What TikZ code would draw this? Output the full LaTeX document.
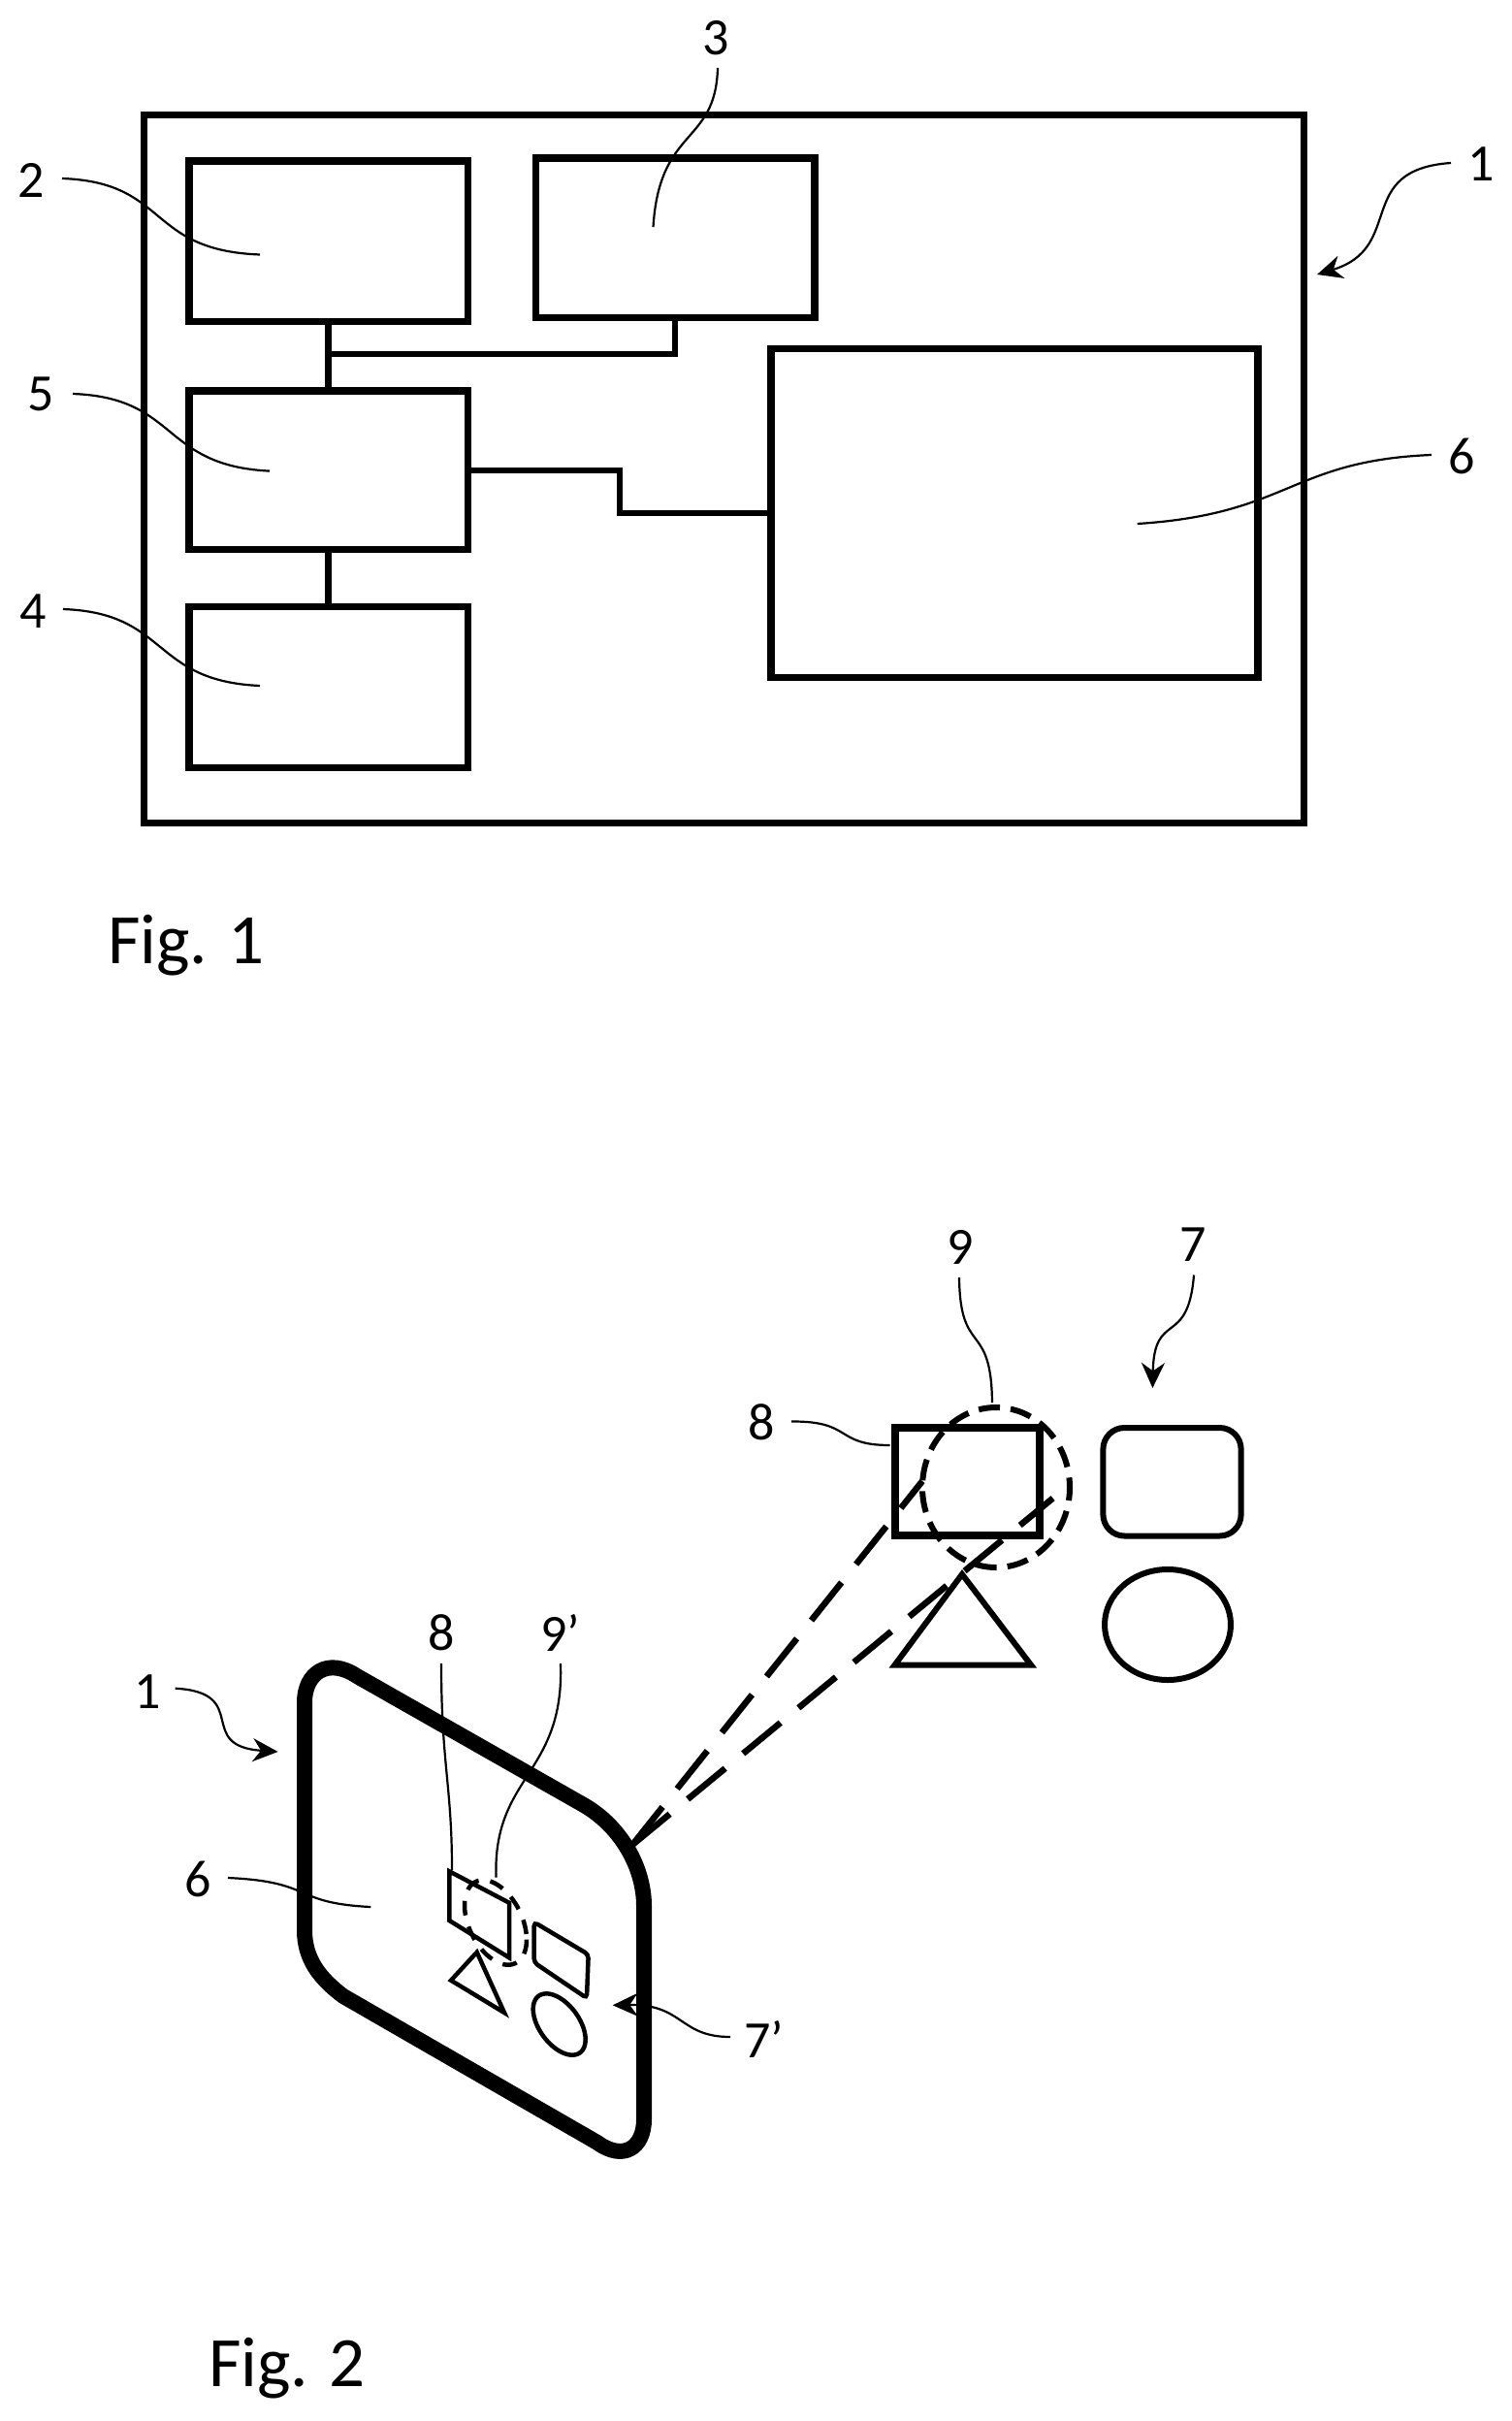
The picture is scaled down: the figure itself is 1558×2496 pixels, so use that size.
\documentclass[tikz,border=0pt]{standalone}
\usepackage{fontspec}
\setmainfont{Carlito}
\usetikzlibrary{arrows.meta,shapes.geometric}
\tikzset{
  lab/.style={inner sep=0pt,outer sep=0pt,font=\fontsize{54}{54}\selectfont},
  figlab/.style={inner sep=0pt,outer sep=0pt,anchor=base west,font=\fontsize{73}{73}\selectfont},
  boxn/.style={draw=black,line width=7.5pt,inner sep=0pt,outer sep=0pt,fill=none,line join=miter},
  wire/.style={draw=black,line width=6pt},
  leader/.style={draw=black,line width=2.2pt},
  leadarrow/.style={leader,-{Stealth[length=26pt,width=24pt]}},
  shape7/.style={draw=black,line width=6pt},
  sightline/.style={draw=black,line width=6.5pt,dash pattern=on 50pt off 24pt},
  shapesmall/.style={draw=black,line width=4.5pt},
  phone/.style={draw=black,line width=16pt,line join=round},
}
\begin{document}
\begin{tikzpicture}[x=1pt,y=-1pt]
\useasboundingbox (0,0) rectangle (1558,2496);
% ---------- Fig. 1 ----------
\node[boxn,line width=7pt,minimum width=1195.5pt,minimum height=729.6pt] (dev) at (746.25,483.8) {};
\node[boxn,minimum width=287.6pt,minimum height=165.5pt] (b2) at (338.8,248.75) {};
\node[boxn,minimum width=287.5pt,minimum height=164.5pt] (b3) at (696.25,245.25) {};
\node[boxn,minimum width=287.6pt,minimum height=163.6pt] (b5) at (338.8,484.8) {};
\node[boxn,minimum width=287.6pt,minimum height=166.1pt] (b4) at (338.8,708.65) {};
\node[boxn,minimum width=502pt,minimum height=338.9pt] (b6) at (1046,529.15) {};
\coordinate (j1) at (338.8,365);
\coordinate (k1) at (639,500);
\draw[wire,line width=7pt] (b2.south) -- (b5.north);
\draw[wire,line width=7pt] (b5.south) -- (b4.north);
\draw[wire,line join=miter] (b3.south) |- (j1);
\draw[wire,line join=miter] (b5.east) -| (k1) |- (b6.west);
\node[lab] (l2) at (32,186) {2};
\node[lab] (l5) at (42,406) {5};
\node[lab] (l4) at (34,630) {4};
\node[lab] (l3) at (738,39) {3};
\node[lab] (l1) at (1527,169) {1};
\node[lab] (l6) at (1507,470) {6};
\coordinate (t2) at (268,262.5);
\coordinate (t5) at (278,485.6);
\coordinate (t4) at (268,707);
\coordinate (t3) at (673.5,234);
\coordinate (t1) at (1358,283);
\coordinate (t6) at (1172.7,540);
\draw[leader] ([shift={(32,-2)}]l2.center) .. controls (175,188) and (150,258) .. (t2);
\draw[leader] ([shift={(33,0)}]l5.center) .. controls (185,410) and (165,480) .. (t5);
\draw[leader] ([shift={(31,-2)}]l4.center) .. controls (175,632) and (155,702) .. (t4);
\draw[leader] ([shift={(2,31)}]l3.center) .. controls (738,150) and (680,130) .. (t3);
\draw[leadarrow] ([shift={(-31,-1)}]l1.center) .. controls (1395,175) and (1450,255) .. (t1);
\draw[leader] ([shift={(-31,-1)}]l6.center) .. controls (1330,475) and (1330,530) .. (t6);
\node[figlab] (f1) at (111,993) {Fig. 1};
% ---------- Fig. 2, scene ----------
\draw[draw=black,line width=6pt,dash pattern=on 22pt off 11.1pt,dash phase=8.5pt] (1027,1533.5) ellipse [x radius=76,y radius=82.5];
\node[boxn,line width=8pt,minimum width=149.4pt,minimum height=110.6pt] (r8) at (997.3,1527.3) {};
\node[shape7,rounded corners=22pt,inner sep=0pt,outer sep=0pt,minimum width=142.2pt,minimum height=111.5pt] (r7) at (1208.5,1527.75) {};
\node[shape7,ellipse,inner sep=0pt,outer sep=0pt,minimum width=130pt,minimum height=114pt] (c7) at (1204,1675) {};
\draw[shape7,line join=miter] (992,1623) -- (922.6,1716.5) -- (1063,1716.5) -- cycle;
\coordinate (corner) at (652,1902);
\coordinate (e1) at (951,1527);
\coordinate (e2) at (1085.6,1544.6);
\draw[sightline] (corner) -- (e1);
\draw[sightline] (corner) -- (e2);
\draw[phone] (314,1990) -- (314,1755) .. controls (314,1725) and (338,1708) .. (368,1728) -- (602,1861) .. controls (640,1883) and (664,1925) .. (664,1965) -- (664,2185) .. controls (664,2215) and (642,2228) .. (616,2209) -- (354,2058) .. controls (330,2040) and (314,2020) .. (314,1990) -- cycle;
% image on the display
\draw[shapesmall,dash pattern=on 15pt off 12pt] plot[domain=0:360,samples=72,smooth] ({511+32*cos(\x)},{1982+0.55*32*cos(\x)+40*sin(\x)});
\draw[shapesmall,line join=miter] (463.3,1929.3) -- (525,1961.7) -- (525,2018.3) -- (463.3,1980) -- cycle;
\draw[shapesmall,rounded corners=4pt] (550.7,1981.7) -- (606.7,2015) -- (605,2060) -- (550.7,2023.3) -- cycle;
\draw[shapesmall,line join=miter] (491.7,2012.7) -- (465,2041.7) -- (520,2075) -- cycle;
\draw[shapesmall] plot[domain=0:360,samples=72,smooth cycle] ({576.7+27*cos(\x)},{2087+0.58*27*cos(\x)+27.5*sin(\x)});
% labels
\node[lab] (l9) at (990,1286) {9};
\node[lab] (l7) at (1230,1283.5) {7};
\node[lab] (l8) at (785,1466.5) {8};
\node[lab] (m1) at (152.6,1743.7) {1};
\node[lab] (m6) at (204,1937) {6};
\node[lab] (m8) at (455,1683) {8};
\node[lab] (m9) at (578,1683) {9'};
\node[lab] (m7) at (788,2102) {7'};
\coordinate (u9) at (1023,1446);
\coordinate (u7) at (1188.4,1431);
\coordinate (u8) at (917.7,1490);
\coordinate (v1) at (286.6,1806);
\coordinate (v6) at (382.3,1966);
\coordinate (v8) at (466,1928);
\coordinate (v9) at (511.5,1935.6);
\coordinate (v7) at (631.7,2067.3);
\draw[leader] ([shift={(-1,31)}]l9.center) .. controls (990,1400) and (1022,1360) .. (u9);
\draw[leadarrow] ([shift={(1,31)}]l7.center) .. controls (1225,1390) and (1190,1350) .. (u7);
\draw[leader] ([shift={(31,-1)}]l8.center) .. controls (880,1465) and (860,1490) .. (u8);
\draw[leadarrow] ([shift={(28,-3)}]m1.center) .. controls (260,1745) and (200,1800) .. (v1);
\draw[leader] ([shift={(31,-1)}]m6.center) .. controls (325,1940) and (300,1962) .. (v6);
\draw[leader] ([shift={(0,32)}]m8.center) .. controls (455,1820) and (466,1840) .. (v8);
\draw[leader] ([shift={(0,32)}]m9.center) .. controls (582,1830) and (508,1830) .. (v9);
\draw[leadarrow] ([shift={(-35,-2)}]m7.center) .. controls (700,2100) and (705,2066) .. (v7);
\node[figlab] (f2) at (215,2460) {Fig. 2};
\end{tikzpicture}
\end{document}
